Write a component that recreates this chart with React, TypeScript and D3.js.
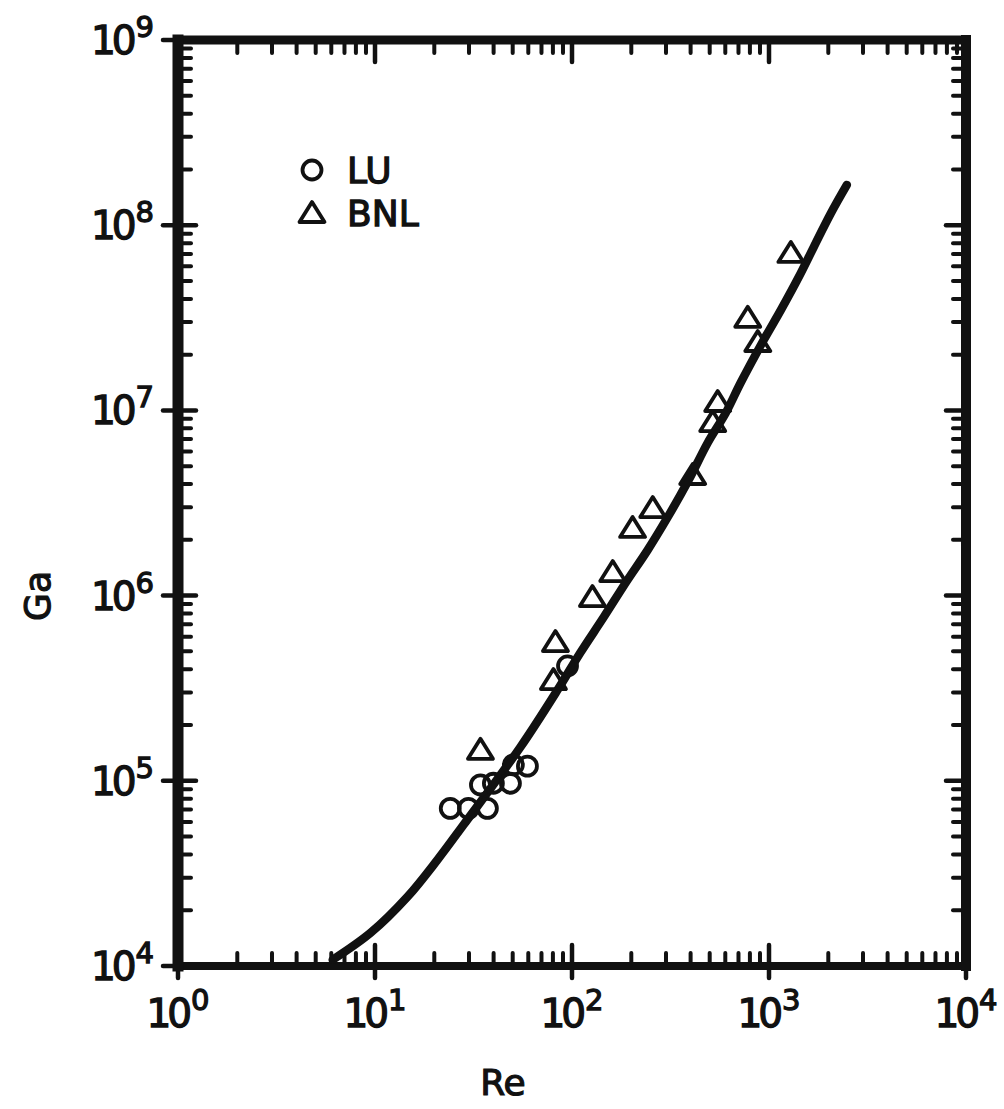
import React from "react";
import * as d3 from "d3";

// Drag correlation curve: Galileo number vs particle Reynolds number
const curveRe = [6.1, 9.5, 14.6, 20.7, 28.1, 54.7, 84.4, 110, 145, 187, 242, 306, 391, 488, 603, 718, 940, 1148, 1416, 1687, 2061, 2484];
const curveGa = [1.08e4, 1.51e4, 2.36e4, 3.73e4, 5.77e4, 1.52e5, 3.09e5, 4.9e5, 7.66e5, 1.17e6, 1.76e6, 2.65e6, 4.21e6, 6.67e6, 9.68e6, 1.41e7, 2.4e7, 3.48e7, 5.25e7, 7.62e7, 1.16e8, 1.65e8];

// LU measurements (circles)
const luRe = [24.1, 29.8, 37.2, 34.3, 39.9, 48.7, 50.4, 59.4, 94.9];
const luGa = [7.1e4, 7.1e4, 7.1e4, 9.5e4, 9.7e4, 9.7e4, 1.22e5, 1.2e5, 4.17e5];

// BNL measurements (triangles)
const bnlRe = [34.3, 80.5, 82.4, 127, 161, 203, 257, 410, 518, 549, 780, 877, 1291];
const bnlGa = [1.47e5, 3.5e5, 5.61e5, 9.82e5, 1.34e6, 2.32e6, 2.97e6, 4.48e6, 8.65e6, 1.11e7, 3.16e7, 2.34e7, 7.08e7];

const xTickExps = [0, 1, 2, 3, 4];
const yTickExps = [4, 5, 6, 7, 8, 9];

const legendLabels = ["LU", "BNL"];
const xTitle = "Re";
const yTitle = "Ga";

const W = 1004;
const H = 1109;
const FONT = "'DejaVu Sans', 'Liberation Sans', sans-serif";

const left = 178;
const right = 966;
const top = 40;
const bottom = 966;

const x = d3.scaleLog().domain([1, 1e4]).range([left, right]);
const y = d3.scaleLog().domain([1e4, 1e9]).range([bottom, top]);

const isDecade = (v: number) => Math.abs(Math.log10(v) - Math.round(Math.log10(v))) < 1e-9;

function triPath(cx: number, cy: number) {
  return `M${cx},${cy - 11}L${cx + 12.5},${cy + 9}L${cx - 12.5},${cy + 9}Z`;
}

export default function App() {
  const line = d3
    .line<number>()
    .x((_, i) => x(curveRe[i]))
    .y((d) => y(d))
    .curve(d3.curveCatmullRom.alpha(0.5));

  const xt = x.ticks();
  const yt = y.ticks();

  const ink = "#111";
  const minorLen = 13;
  const markerStroke = 3.8;

  return (
    <svg
      width={W}
      height={H}
      viewBox={`0 0 ${W} ${H}`}
      style={{ position: "absolute", left: 0, top: 0, background: "#fff" }}
    >
      <rect x={0} y={0} width={W} height={H} fill="#fff" />

      {/* bottom and top ticks */}
      <g stroke={ink} strokeLinecap="round">
        {xt.map((v, i) => {
          const px = x(v);
          const major = isDecade(v);
          if (major) {
            return (
              <g key={"xt" + i} strokeWidth={4.5}>
                <line x1={px} x2={px} y1={bottom + 12} y2={bottom - 21} />
                <line x1={px} x2={px} y1={top} y2={top + 22} />
              </g>
            );
          }
          return (
            <g key={"xt" + i} strokeWidth={4}>
              <line x1={px} x2={px} y1={bottom} y2={bottom - minorLen} />
              <line x1={px} x2={px} y1={top} y2={top + minorLen} />
            </g>
          );
        })}
      </g>

      {/* left and right ticks */}
      <g stroke={ink} strokeLinecap="round">
        {yt.map((v, i) => {
          const py = y(v);
          const major = isDecade(v);
          if (major) {
            return (
              <g key={"yt" + i} strokeWidth={4.5}>
                <line x1={left - 15} x2={left + 18} y1={py} y2={py} />
                <line x1={right} x2={right - 20} y1={py} y2={py} />
              </g>
            );
          }
          return (
            <g key={"yt" + i} strokeWidth={4}>
              <line x1={left} x2={left + minorLen} y1={py} y2={py} />
              <line x1={right} x2={right - minorLen} y1={py} y2={py} />
            </g>
          );
        })}
      </g>

      {/* frame */}
      <g stroke={ink} strokeLinecap="square">
        <line x1={left} x2={right} y1={top} y2={top} strokeWidth={9} />
        <line x1={left} x2={right} y1={bottom} y2={bottom} strokeWidth={8} />
        <line x1={left} x2={left} y1={top} y2={bottom} strokeWidth={11} />
        <line x1={right} x2={right} y1={top} y2={bottom} strokeWidth={10} />
      </g>

      {/* correlation curve */}
      <path
        d={line(curveGa) || ""}
        fill="none"
        stroke={ink}
        strokeWidth={8.5}
        strokeLinecap="round"
        strokeLinejoin="round"
      />

      {/* data points */}
      <g fill="none" stroke={ink} strokeWidth={markerStroke}>
        {luRe.map((r, i) => (
          <circle key={"lu" + i} cx={x(r)} cy={y(luGa[i])} r={9.5} />
        ))}
        {bnlRe.map((r, i) => (
          <path key={"bnl" + i} d={triPath(x(r), y(bnlGa[i]))} strokeLinejoin="round" />
        ))}
      </g>

      {/* legend */}
      <g fontFamily={FONT} fontSize={36} fill={ink} stroke={ink} strokeWidth={1.3}>
        <circle cx={312} cy={170} r={9.5} fill="none" strokeWidth={markerStroke} />
        <text x={347} y={183}>{legendLabels[0]}</text>
        <path d={triPath(312, 213)} fill="none" strokeWidth={markerStroke} strokeLinejoin="round" />
        <text x={347} y={226}>{legendLabels[1]}</text>
      </g>

      {/* x tick labels */}
      <g fontFamily={FONT} fill={ink} stroke={ink} strokeWidth={1.3}>
        {xTickExps.map((e) => (
          <text key={"xl" + e} x={x(Math.pow(10, e))} y={1027} textAnchor="middle" fontSize={39} letterSpacing={-4}>
            10
            <tspan fontSize={29} dy={-17} dx={3} letterSpacing={0}>{e}</tspan>
          </text>
        ))}
      </g>

      {/* y tick labels */}
      <g fontFamily={FONT} fill={ink} stroke={ink} strokeWidth={1.3}>
        {yTickExps.map((e) => (
          <text key={"yl" + e} x={154} y={y(Math.pow(10, e)) + 14} textAnchor="end" fontSize={39} letterSpacing={-4}>
            10
            <tspan fontSize={29} dy={-17} dx={3} letterSpacing={0}>{e}</tspan>
          </text>
        ))}
      </g>

      {/* axis titles */}
      <text
        x={503}
        y={1095}
        textAnchor="middle"
        fontFamily={FONT}
        fontSize={36}
        fill={ink}
        stroke={ink}
        strokeWidth={1.2}
      >
        {xTitle}
      </text>
      <text
        transform="translate(50,596) rotate(-90)"
        textAnchor="middle"
        fontFamily={FONT}
        fontSize={36}
        fill={ink}
        stroke={ink}
        strokeWidth={1.2}
      >
        {yTitle}
      </text>
    </svg>
  );
}
